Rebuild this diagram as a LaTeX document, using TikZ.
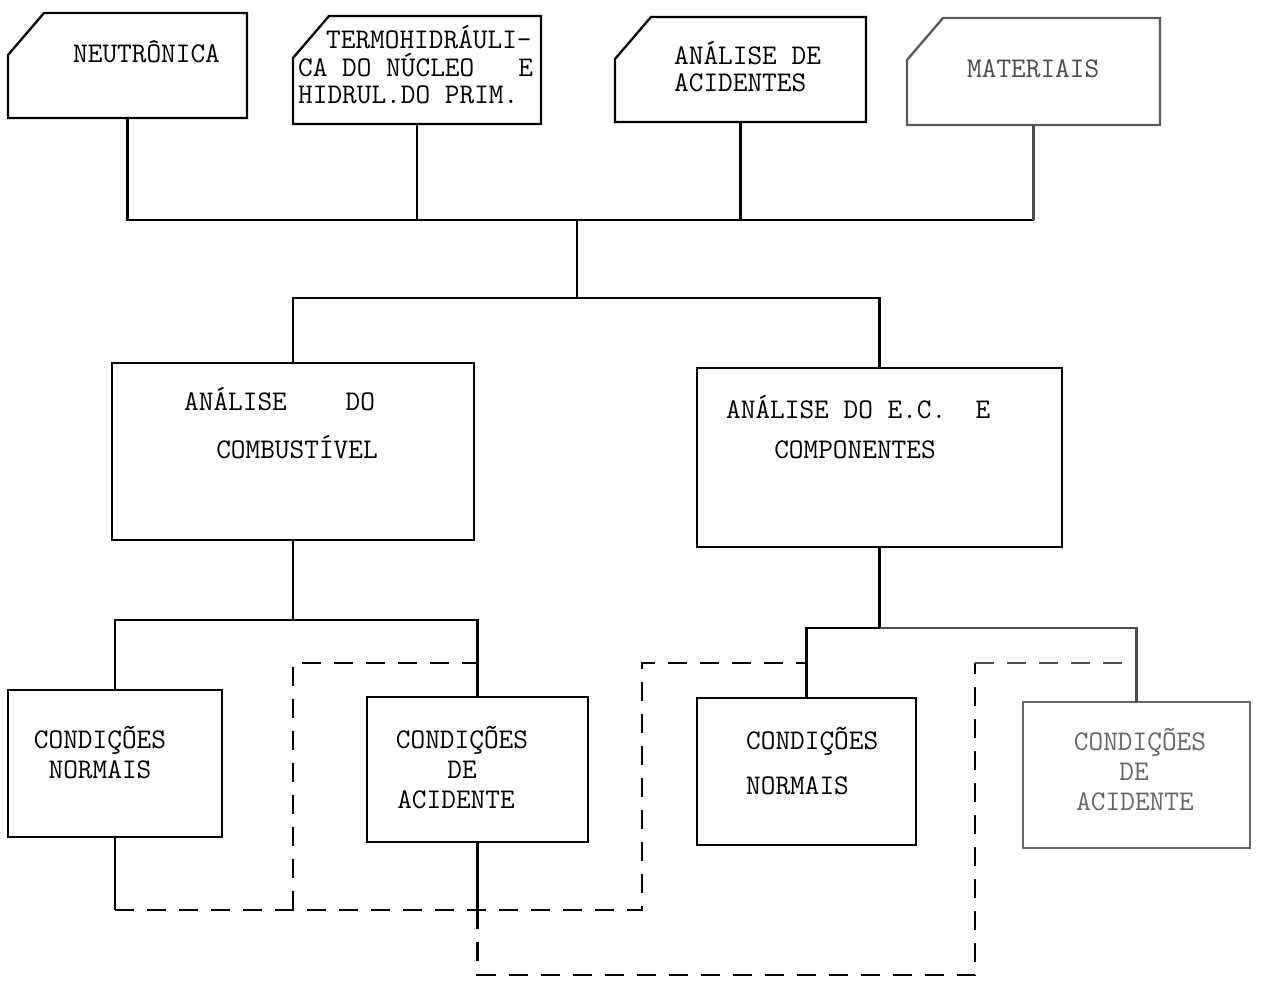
\documentclass[tikz,border=0pt]{standalone}
\usetikzlibrary{calc}
\begin{document}
\begin{tikzpicture}[x=1pt,y=-1pt,line width=2.3pt,
  bx/.style 2 args={rectangle,inner sep=0pt,outer sep=0pt,minimum width=#1,minimum height=#2},
  sq/.style 2 args={bx={#1}{#2},draw},
  lbl/.style={font=\ttfamily\fontsize{28.5}{28}\selectfont,inner sep=0pt},
  lw/.style={lbl,anchor=base west},
  lc/.style={lbl,anchor=base},
  fb/.style={dash pattern=on 19pt off 13pt}]
\fill[white] (0,0) rectangle (1271,987);
\useasboundingbox (0,0) rectangle (1271,987);

% source boxes with a cut corner
\newcommand{\cutbox}[2][]{%
  \draw[#1] ($(#2.north west)+(36,0)$) -- (#2.north east) -- (#2.south east)
    -- (#2.south west) -- ($(#2.north west)+(0,42)$) -- cycle;}
\node[bx={239pt}{105pt}] (neu) at (127.5,65.5) {};
\node[bx={248pt}{108pt}] (ter) at (417,70) {};
\node[bx={251pt}{105pt}] (acc) at (740.5,69.5) {};
\node[bx={253pt}{107pt}] (mat) at (1033.5,71.5) {};
\cutbox{neu}
\cutbox{ter}
\cutbox{acc}
\cutbox[black!65]{mat}

\node[lw] (tneu) at (72,63) {NEUTRÔNICA};
\node[lw] (tter1) at (325,49) {TERMOHIDRÁULI-};
\node[lw] (tter2) at (297,77) {CA DO NÚCLEO\ \ \ E};
\node[lw] (tter3) at (297,104) {HIDRUL.DO PRIM.};
\node[lw] (tacc1) at (673,65) {ANÁLISE DE};
\node[lw] (tacc2) at (673,92) {ACIDENTES};
\node[lw,text=black!70] (tmat) at (966,78) {MATERIAIS};

% analysis boxes
\node[sq={362pt}{177pt}] (comb) at (293,451.5) {};
\node[sq={365pt}{179pt}] (comp) at (879.5,457.5) {};
\node[lw] (tcomb1) at (183,410) {ANÁLISE\ \ \ \ DO};
\node[lc] (tcomb2) at (297,458) {COMBUSTÍVEL};
\node[lw] (tcomp1) at (725,418) {ANÁLISE DO E.C.\ \ E};
\node[lc] (tcomp2) at (855,458) {COMPONENTES};

% condition boxes
\node[sq={214pt}{147pt}] (cn1) at (115,763.5) {};
\node[sq={221pt}{145pt}] (ca1) at (477.5,769.5) {};
\node[sq={219pt}{147pt}] (cn2) at (806.5,771.5) {};
\node[sq={227pt}{146pt},draw=black!60] (ca2) at (1136.5,775) {};
\node[lc] (tcn1a) at (100,748) {CONDIÇÕES};
\node[lc] (tcn1b) at (100,778) {NORMAIS};
\node[lc] (tca1a) at (462,748) {CONDIÇÕES};
\node[lc] (tca1b) at (462,778) {DE};
\node[lc] (tca1c) at (456,808) {ACIDENTE};
\node[lw] (tcn2a) at (745,749) {CONDIÇÕES};
\node[lw] (tcn2b) at (745,794) {NORMAIS};
\node[lc,text=black!60] (tca2a) at (1140,750) {CONDIÇÕES};
\node[lc,text=black!60] (tca2b) at (1134,780) {DE};
\node[lc,text=black!60] (tca2c) at (1135,810) {ACIDENTE};

% solid tree connectors
\coordinate (bus) at (577,220);
\coordinate (fork) at (577,298);
\draw (neu.south) -- (neu.south |- bus) -- (mat.south |- bus);
\draw[black!70] (mat.south |- bus) -- (mat.south);
\draw (ter.south) -- (ter.south |- bus);
\draw (acc.south) -- (acc.south |- bus);
\draw (bus) -- (fork);
\draw (comb.north) |- (fork) -| (comp.north);

\coordinate (f1) at (comb.south |- 0,620);
\draw (comb.south) -- (f1);
\draw (cn1.north) |- (f1) -| (ca1.north);
\coordinate (f2) at (comp.south |- 0,628);
\draw (comp.south) -- (f2);
\draw (cn2.north) |- (f2);
\draw[black!70] (f2) -| (ca2.north);

% dashed feedback lines
\coordinate (r1) at (cn1.south |- 0,910);
\coordinate (r2) at (ca1.south |- 0,910);
\coordinate (k1) at (642,663);
\coordinate (k2) at (293,910);
\coordinate (k3) at (975,975);
\coordinate (k4) at (975,663);
\draw (cn1.south) -- (r1);
\draw (ca1.south) -- (r2);
\draw[fb] (r1) -| (k1) -- (cn2.north |- k1);
\draw[fb] (k2) |- (ca1.north |- k1);
\draw[fb] (r2) |- (k3) -- (k4);
\draw[fb,black!70] (k4) -- (ca2.north |- k4);
\end{tikzpicture}
\end{document}
